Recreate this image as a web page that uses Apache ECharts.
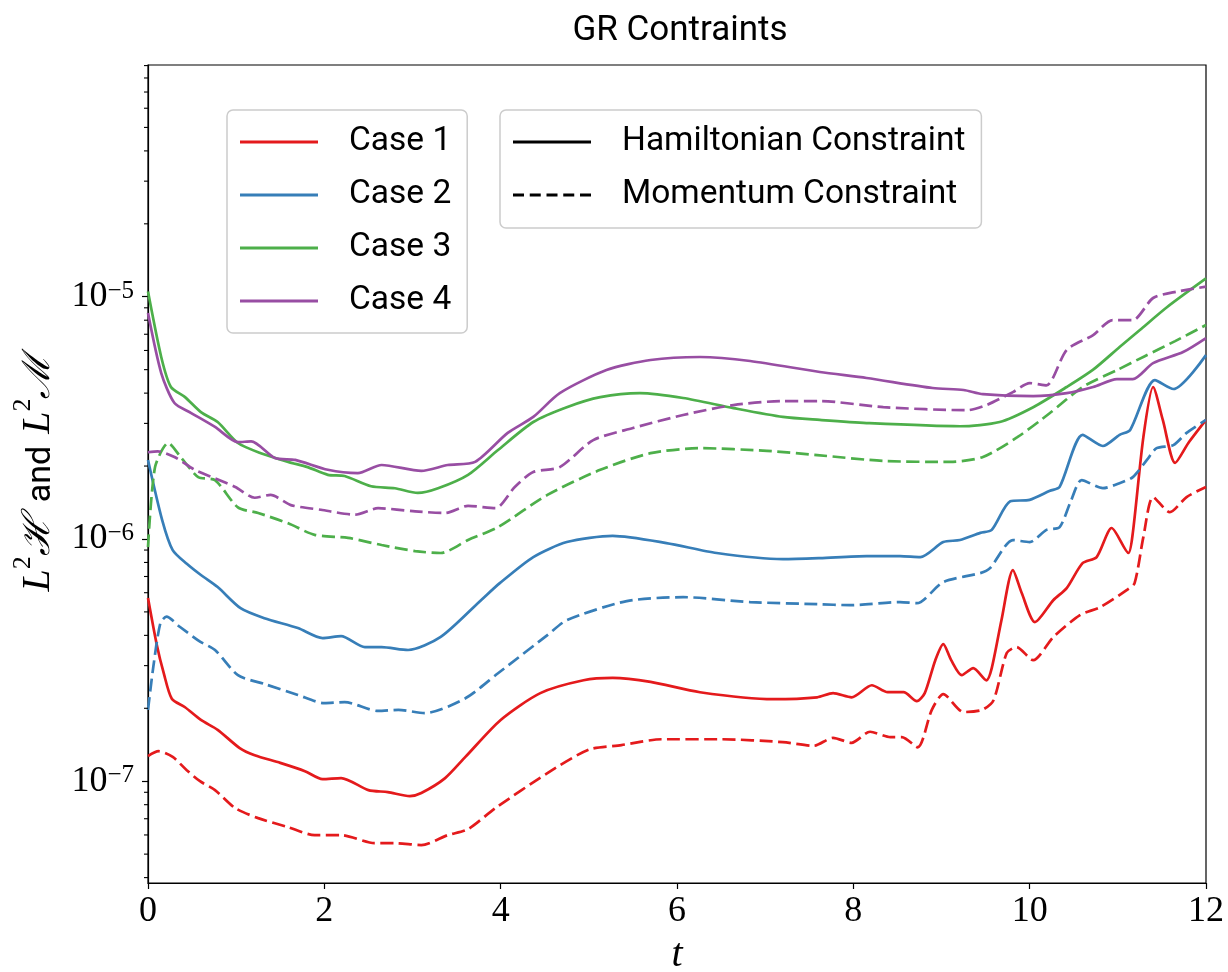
<!DOCTYPE html>
<html><head><meta charset="utf-8">
<script src="https://cdn.jsdelivr.net/npm/echarts@6/dist/echarts.min.js"></script>
<style>html,body{margin:0;padding:0;background:#fff}#c{width:1228px;height:972px}</style>
</head><body><div id="c"></div>
<script>
// ---- data (t, value) ----
const caseNames = ['Case 1', 'Case 2', 'Case 3', 'Case 4'];
const constraintNames = ['Hamiltonian Constraint', 'Momentum Constraint'];
const xTickValues = [0, 2, 4, 6, 8, 10, 12];
const yMajorTicks = [1e-7, 1e-6, 1e-5];
const yMinorTicks = [4e-8,5e-8,6e-8,7e-8,8e-8,9e-8,2e-7,3e-7,4e-7,5e-7,6e-7,7e-7,8e-7,9e-7,
  2e-6,3e-6,4e-6,5e-6,6e-6,7e-6,8e-6,9e-6,2e-5,3e-5,4e-5,5e-5,6e-5,7e-5,8e-5,9e-5];

const case1H = [[0,5.70e-7],[0.1,3.65e-7],[0.18,2.78e-7],[0.27,2.19e-7],[0.42,2.02e-7],[0.6,1.79e-7],[0.79,1.63e-7],[1.04,1.37e-7],[1.21,1.28e-7],[1.5,1.19e-7],[1.78,1.10e-7],[1.98,1.02e-7],[2.19,1.03e-7],[2.5,9.19e-8],[2.72,9.02e-8],[2.97,8.68e-8],[3.1,8.94e-8],[3.37,1.03e-7],[3.6,1.26e-7],[4.0,1.79e-7],[4.45,2.31e-7],[4.94,2.61e-7],[5.27,2.67e-7],[5.7,2.57e-7],[6.26,2.33e-7],[7.09,2.18e-7],[7.59,2.22e-7],[7.77,2.31e-7],[7.98,2.22e-7],[8.21,2.49e-7],[8.39,2.33e-7],[8.57,2.33e-7],[8.72,2.14e-7],[8.81,2.31e-7],[8.93,3.16e-7],[9.02,3.68e-7],[9.11,3.16e-7],[9.23,2.74e-7],[9.36,2.93e-7],[9.51,2.61e-7],[9.57,2.93e-7],[9.68,4.62e-7],[9.81,7.44e-7],[9.91,5.98e-7],[10.06,4.54e-7],[10.27,5.60e-7],[10.42,6.27e-7],[10.6,7.95e-7],[10.76,8.42e-7],[10.93,1.11e-6],[11.12,8.75e-7],[11.17,1.06e-6],[11.29,2.64e-6],[11.4,4.24e-6],[11.51,3.10e-6],[11.65,2.06e-6],[11.8,2.49e-6],[12,3.10e-6]];
const case1M = [[0,1.27e-7],[0.12,1.33e-7],[0.28,1.26e-7],[0.44,1.11e-7],[0.59,1.0e-7],[0.76,9.19e-8],[0.99,7.74e-8],[1.25,7.04e-8],[1.59,6.46e-8],[1.89,5.99e-8],[2.19,5.99e-8],[2.57,5.55e-8],[2.8,5.55e-8],[3.1,5.45e-8],[3.4,5.99e-8],[3.63,6.34e-8],[3.94,7.74e-8],[4.53,1.08e-7],[5.0,1.35e-7],[5.37,1.41e-7],[5.83,1.49e-7],[6.5,1.49e-7],[7.2,1.45e-7],[7.55,1.40e-7],[7.77,1.51e-7],[7.98,1.44e-7],[8.19,1.60e-7],[8.42,1.52e-7],[8.55,1.52e-7],[8.73,1.38e-7],[8.89,1.97e-7],[9.02,2.29e-7],[9.25,1.93e-7],[9.46,1.97e-7],[9.59,2.16e-7],[9.74,3.38e-7],[9.85,3.58e-7],[10.04,3.16e-7],[10.27,3.94e-7],[10.57,4.85e-7],[10.8,5.23e-7],[11.1,6.15e-7],[11.19,6.57e-7],[11.29,1.02e-6],[11.4,1.49e-6],[11.59,1.29e-6],[11.78,1.49e-6],[12,1.64e-6]];
const case2H = [[0,2.12e-6],[0.16,1.20e-6],[0.28,9.0e-7],[0.44,7.9e-7],[0.6,7.10e-7],[0.79,6.33e-7],[1.05,5.18e-7],[1.32,4.71e-7],[1.7,4.29e-7],[1.98,3.90e-7],[2.19,3.97e-7],[2.46,3.58e-7],[2.65,3.58e-7],[2.95,3.48e-7],[3.32,3.94e-7],[3.78,5.60e-7],[3.99,6.57e-7],[4.37,8.42e-7],[4.75,9.71e-7],[5.27,1.03e-6],[5.88,9.62e-7],[6.45,8.75e-7],[7.2,8.26e-7],[7.62,8.34e-7],[8.15,8.50e-7],[8.53,8.50e-7],[8.76,8.42e-7],[9.02,9.71e-7],[9.21,9.90e-7],[9.44,1.06e-6],[9.57,1.09e-6],[9.78,1.43e-6],[10.0,1.45e-6],[10.23,1.58e-6],[10.34,1.64e-6],[10.6,2.69e-6],[10.83,2.42e-6],[11.02,2.69e-6],[11.14,2.82e-6],[11.42,4.53e-6],[11.63,4.16e-6],[12,5.74e-6]];
const case2M = [[0,1.97e-7],[0.06,2.96e-7],[0.14,4.49e-7],[0.21,4.78e-7],[0.36,4.34e-7],[0.59,3.77e-7],[0.76,3.48e-7],[1.02,2.74e-7],[1.32,2.52e-7],[1.7,2.27e-7],[2.0,2.10e-7],[2.23,2.12e-7],[2.61,1.95e-7],[2.84,1.97e-7],[3.14,1.91e-7],[3.6,2.20e-7],[3.97,2.79e-7],[4.53,4.01e-7],[4.75,4.62e-7],[5.43,5.54e-7],[6.07,5.75e-7],[6.83,5.49e-7],[7.59,5.38e-7],[7.96,5.33e-7],[8.53,5.49e-7],[8.72,5.43e-7],[9.02,6.64e-7],[9.44,7.23e-7],[9.55,7.58e-7],[9.81,9.90e-7],[10.0,9.71e-7],[10.19,1.09e-6],[10.34,1.12e-6],[10.46,1.41e-6],[10.59,1.75e-6],[10.83,1.62e-6],[11.02,1.70e-6],[11.17,1.80e-6],[11.33,2.12e-6],[11.44,2.37e-6],[11.63,2.44e-6],[11.78,2.74e-6],[12,3.10e-6]];
const case3H = [[0,1.05e-5],[0.15,5.64e-6],[0.26,4.24e-6],[0.42,3.85e-6],[0.6,3.34e-6],[0.79,3.04e-6],[1.02,2.49e-6],[1.28,2.26e-6],[1.59,2.08e-6],[1.81,1.98e-6],[2.04,1.84e-6],[2.23,1.82e-6],[2.53,1.65e-6],[2.8,1.62e-6],[3.06,1.55e-6],[3.29,1.62e-6],[3.63,1.84e-6],[3.97,2.33e-6],[4.37,3.04e-6],[4.75,3.50e-6],[5.13,3.85e-6],[5.58,4.00e-6],[6.07,3.82e-6],[6.64,3.47e-6],[7.2,3.19e-6],[7.62,3.10e-6],[8.15,3.01e-6],[9.21,2.92e-6],[9.66,3.04e-6],[10.04,3.50e-6],[10.42,4.24e-6],[10.72,5.0e-6],[11.02,6.2e-6],[11.25,7.29e-6],[11.56,9.07e-6],[12,1.19e-5]];
const case3M = [[0,9.26e-7],[0.08,1.98e-6],[0.23,2.49e-6],[0.37,2.18e-6],[0.57,1.80e-6],[0.76,1.75e-6],[1.02,1.35e-6],[1.25,1.28e-6],[1.59,1.16e-6],[1.89,1.04e-6],[2.27,1.01e-6],[2.65,9.44e-7],[3.03,8.91e-7],[3.32,8.75e-7],[3.63,9.90e-7],[3.97,1.12e-6],[4.53,1.52e-6],[5.13,1.93e-6],[5.7,2.26e-6],[6.26,2.37e-6],[7.02,2.31e-6],[7.59,2.22e-6],[8.34,2.10e-6],[9.1,2.08e-6],[9.47,2.18e-6],[9.86,2.63e-6],[10.23,3.31e-6],[10.6,4.24e-6],[11.0,5.0e-6],[11.3,5.67e-6],[11.65,6.56e-6],[12,7.64e-6]];
const case4H = [[0,8.56e-6],[0.15,4.84e-6],[0.3,3.64e-6],[0.49,3.31e-6],[0.76,2.90e-6],[1.02,2.51e-6],[1.17,2.53e-6],[1.44,2.16e-6],[1.67,2.12e-6],[2.04,1.93e-6],[2.38,1.87e-6],[2.65,2.02e-6],[3.1,1.91e-6],[3.4,2.02e-6],[3.71,2.08e-6],[4.08,2.74e-6],[4.37,3.19e-6],[4.67,4.00e-6],[5.2,4.98e-6],[5.7,5.48e-6],[6.26,5.64e-6],[6.83,5.43e-6],[7.62,4.89e-6],[8.15,4.62e-6],[8.9,4.20e-6],[9.25,4.12e-6],[9.47,3.96e-6],[10.04,3.89e-6],[10.42,4.00e-6],[10.72,4.24e-6],[10.99,4.57e-6],[11.17,4.57e-6],[11.4,5.32e-6],[11.74,5.91e-6],[12,6.75e-6]];
const case4M = [[0,2.28e-6],[0.11,2.30e-6],[0.3,2.18e-6],[0.53,1.93e-6],[0.76,1.78e-6],[0.99,1.64e-6],[1.21,1.48e-6],[1.39,1.52e-6],[1.62,1.38e-6],[1.96,1.32e-6],[2.35,1.26e-6],[2.61,1.34e-6],[3.03,1.30e-6],[3.37,1.28e-6],[3.63,1.37e-6],[3.94,1.34e-6],[4.16,1.64e-6],[4.37,1.89e-6],[4.67,1.98e-6],[5.05,2.56e-6],[5.5,2.87e-6],[6.07,3.25e-6],[6.64,3.57e-6],[7.2,3.71e-6],[7.62,3.71e-6],[8.34,3.50e-6],[9.29,3.40e-6],[9.51,3.57e-6],[9.81,4.04e-6],[10.0,4.40e-6],[10.19,4.31e-6],[10.42,6.03e-6],[10.72,6.95e-6],[10.94,8.01e-6],[11.17,8.01e-6],[11.4,9.88e-6],[11.67,1.05e-5],[12,1.10e-5]];

const hamiltonian = [case1H, case2H, case3H, case4H];
const momentum = [case1M, case2M, case3M, case4M];

// ---- styles ----
const colors = ['#e41a1c', '#377eb8', '#4daf4a', '#984ea3'];
const DASH = [13, 5.5];
const LW = 2.7;
const SOLID_ICON = 'path://M0,0h78v3h-78z';
const DASH_ICON = 'path://M0,0h11v3h-11zM16.75,0h11v3h-11zM33.5,0h11v3h-11zM50.25,0h11v3h-11zM67,0h11v3h-11z';
const SERIF = "'Liberation Serif', 'DejaVu Serif', serif";
const SANS = "Roboto, 'DejaVu Sans', sans-serif";

const series = [];
for (let i = 0; i < 4; i++) {
  series.push({ name: caseNames[i], type: 'line', data: hamiltonian[i], symbol: 'none', smooth: 0.25,
    lineStyle: { color: colors[i], width: LW }, itemStyle: { color: colors[i] }, z: 2 });
  series.push({ name: caseNames[i], type: 'line', data: momentum[i], symbol: 'none', smooth: 0.25,
    lineStyle: { color: colors[i], width: LW, type: DASH }, itemStyle: { color: colors[i] }, z: 2 });
}
series.push({ name: constraintNames[0], type: 'line', data: [], symbol: 'none',
  lineStyle: { color: '#000', width: LW }, itemStyle: { color: '#000' } });
series.push({ name: constraintNames[1], type: 'line', data: [], symbol: 'none',
  lineStyle: { color: '#000', width: LW, type: DASH }, itemStyle: { color: '#000' } });
series.push({ name: 'minorTicks', type: 'custom', silent: true, clip: false, z: 5,
  data: yMinorTicks.map(v => [0, v]),
  renderItem: (params, api) => {
    const p = api.coord([0, api.value(1)]);
    return { type: 'line', shape: { x1: p[0] - 4, y1: p[1], x2: p[0], y2: p[1] },
      style: { stroke: '#000', lineWidth: 1.1 } };
  } });

const legendCommon = {
  orient: 'vertical', itemWidth: 78, itemHeight: 3, itemGap: 13,
  backgroundColor: 'rgba(255,255,255,0.8)', borderColor: '#cccccc', borderWidth: 1.5, borderRadius: 6,
  itemStyle: { borderWidth: 0 }, selectedMode: false,
  textStyle: { fontFamily: SANS, fontSize: 33.5, color: '#000', lineHeight: 40, padding: [0, 0, 0, 26] }
};

const option = {
  animation: false,
  backgroundColor: '#fff',
  grid: { left: 148, right: 22, top: 65, bottom: 89, show: true, borderColor: '#000', borderWidth: 1.2, backgroundColor: 'transparent' },
  xAxis: {
    type: 'value', min: 0, max: 12, interval: 2,
    axisLine: { show: true, lineStyle: { color: '#000', width: 1.2 } },
    axisTick: { show: true, inside: false, length: 6, lineStyle: { color: '#000', width: 1.2 } },
    splitLine: { show: false },
    axisLabel: { color: '#000', fontFamily: SERIF, fontSize: 36, margin: 11 }
  },
  yAxis: {
    type: 'log', logBase: 10, min: 3.8e-8, max: 9.05e-5,
    axisLine: { show: true, lineStyle: { color: '#000', width: 1.2 } },
    axisTick: { show: true, inside: false, length: 6, lineStyle: { color: '#000', width: 1.2 } },
    splitLine: { show: false },
    minorTick: { show: false },
    axisLabel: {
      showMinLabel: false, showMaxLabel: false, margin: 14, color: '#000',
      formatter: v => {
        const e = Math.round(Math.log10(v));
        return '{b|10}{s|\u2212' + (-e) + '}';
      },
      rich: {
        b: { fontFamily: SERIF, fontSize: 36, lineHeight: 36, color: '#000', verticalAlign: 'middle' },
        s: { fontFamily: SERIF, fontSize: 25, lineHeight: 25, color: '#000', padding: [0, 0, 21, 0], verticalAlign: 'top' }
      }
    }
  },
  legend: [
    Object.assign({}, legendCommon, { left: 227, top: 110, padding: [12, 16, 12, 13],
      data: caseNames.map(n => ({ name: n, icon: SOLID_ICON })) }),
    Object.assign({}, legendCommon, { left: 500, top: 110, padding: [12, 16, 13, 13],
      data: [{ name: constraintNames[0], icon: SOLID_ICON }, { name: constraintNames[1], icon: DASH_ICON }] })
  ],
  graphic: [
    { type: 'text', x: 680, y: 31, style: { text: 'GR Contraints', font: '35px ' + SANS, fill: '#000', align: 'center', verticalAlign: 'middle' } },
    { type: 'text', x: 677, y: 955, style: { text: 't', font: 'italic 40px ' + SERIF, fill: '#000', align: 'center', verticalAlign: 'middle' } },
    { type: 'text', x: 34, y: 473, rotation: Math.PI / 2,
      style: {
        text: '{i|L}{sup|2}{cal|\u210B}{s|and}{i|L}{sup|2}{cal|\u2133}',
        align: 'center', verticalAlign: 'middle',
        rich: {
          i: { fontFamily: SERIF, fontStyle: 'italic', fontSize: 40, lineHeight: 48, fill: '#000', verticalAlign: 'bottom' },
          sup: { fontFamily: SERIF, fontSize: 26, lineHeight: 26, fill: '#000', padding: [0, 0, 22, 0], verticalAlign: 'top' },
          cal: { fontFamily: "'DejaVu Serif', serif", fontStyle: 'italic', fontSize: 38, lineHeight: 48, fill: '#000', verticalAlign: 'bottom' },
          s: { fontFamily: SANS, fontSize: 34, lineHeight: 48, fill: '#000', verticalAlign: 'bottom', padding: [0, 12, 0, 14] }
        }
      } }
  ],
  series: series
};

const chart = echarts.init(document.getElementById('c'), null, { renderer: 'canvas' });
chart.setOption(option);
</script></body></html>
